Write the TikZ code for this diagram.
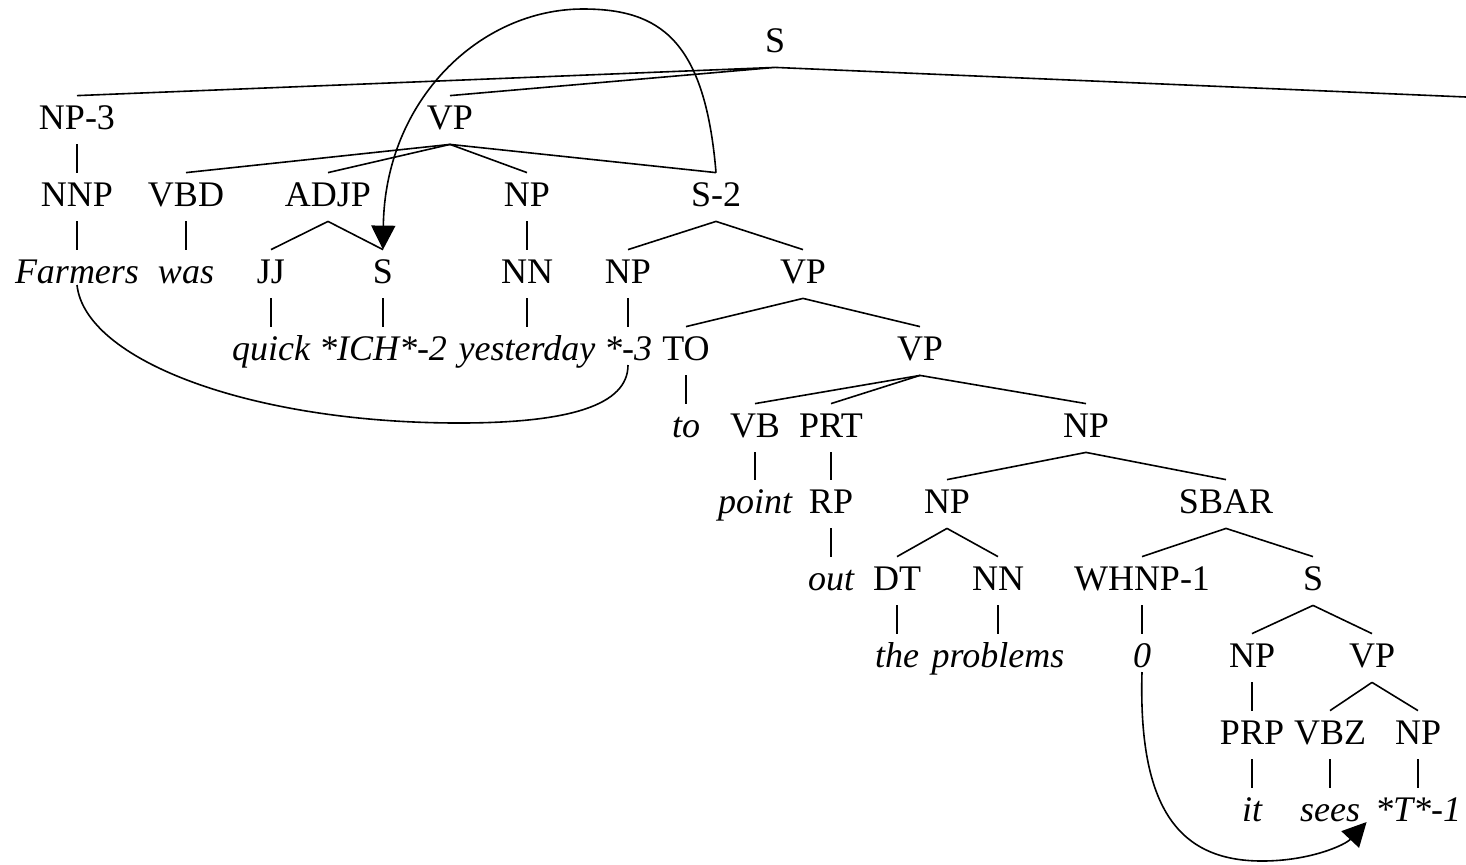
\documentclass[tikz,border=0pt]{standalone}
\usepackage{fontspec}
\setmainfont{Liberation Serif}
\usetikzlibrary{arrows.meta}
\begin{document}
\begin{tikzpicture}[x=0.5pt,y=-0.5pt,
  lab/.style={anchor=base, font=\fontsize{18}{20}\selectfont, text height=12pt, text depth=3pt, inner xsep=1pt, inner ysep=4.5pt},
  leaf/.style={lab, font=\fontsize{18}{20}\selectfont\itshape},
  edge/.style={line width=0.8pt},
  trace/.style={line width=0.8pt},
  arr/.style={trace, -{Triangle[length=12pt,width=12pt]}}]
\useasboundingbox (0,0) rectangle (1466,864);
% row 0
\node[lab] (S) at (775,52) {S};
% row 1
\node[lab] (np3) at (77,129) {NP-3};
\node[lab] (vp1) at (450,129) {VP};
\coordinate (sright) at (1466,97);
% row 2
\node[lab] (nnp) at (77,206) {NNP};
\node[lab] (vbd) at (186,206) {VBD};
\node[lab] (adjp) at (328,206) {ADJP};
\node[lab] (np2) at (527,206) {NP};
\node[lab] (s2) at (716,206) {S-2};
% row 3
\node[leaf] (farmers) at (77,283) {Farmers};
\node[leaf] (was) at (186,283) {was};
\node[lab] (jj) at (271,283) {JJ};
\node[lab] (sadj) at (383,283) {S};
\node[lab] (nn1) at (527,283) {NN};
\node[lab] (np3b) at (628,283) {NP};
\node[lab] (vp2) at (803,283) {VP};
% row 4
\node[leaf] (quick) at (271,360) {quick};
\node[leaf] (ich) at (383,360) {*ICH*-2};
\node[leaf] (yest) at (527,360) {yesterday};
\node[leaf] (star3) at (628,360) {*-3};
\node[lab] (TO) at (686,360) {TO};
\node[lab] (vp3) at (920,360) {VP};
% row 5
\node[leaf] (tow) at (686,437) {to};
\node[lab] (vb) at (755,437) {VB};
\node[lab] (prt) at (831,437) {PRT};
\node[lab] (np4) at (1086,437) {NP};
% row 6
\node[leaf] (point) at (755,513) {point};
\node[lab] (rp) at (831,513) {RP};
\node[lab] (np5) at (947,513) {NP};
\node[lab] (sbar) at (1226,513) {SBAR};
% row 7
\node[leaf] (out) at (831,590) {out};
\node[lab] (dt) at (897,590) {DT};
\node[lab] (nn2) at (998,590) {NN};
\node[lab] (whnp) at (1142,590) {WHNP-1};
\node[lab] (s3) at (1313,590) {S};
% row 8
\node[leaf] (the) at (897,667) {the};
\node[leaf] (problems) at (998,667) {problems};
\node[leaf] (zero) at (1142,667) {0};
\node[lab] (np6) at (1252,667) {NP};
\node[lab] (vp4) at (1372,667) {VP};
% row 9
\node[lab] (prp) at (1252,744) {PRP};
\node[lab] (vbz) at (1330,744) {VBZ};
\node[lab] (np7) at (1418,744) {NP};
% row 10
\node[leaf] (it) at (1252,821) {it};
\node[leaf] (sees) at (1330,821) {sees};
\node[leaf] (tstar) at (1418,821) {*T*-1};
% edges
\draw[edge] (np3.north) -- (S.south) -- (vp1.north);
\draw[edge] (S.south) -- (sright);
\draw[edge] (np3.south) -- (nnp.north);
\draw[edge] (nnp.south) -- (farmers.north);
\foreach \c in {vbd,adjp,np2,s2} \draw[edge] (vp1.south) -- (\c.north);
\draw[edge] (vbd.south) -- (was.north);
\foreach \c in {jj,sadj} \draw[edge] (adjp.south) -- (\c.north);
\draw[edge] (np2.south) -- (nn1.north);
\foreach \c in {np3b,vp2} \draw[edge] (s2.south) -- (\c.north);
\draw[edge] (jj.south) -- (quick.north);
\draw[edge] (sadj.south) -- (ich.north);
\draw[edge] (nn1.south) -- (yest.north);
\draw[edge] (np3b.south) -- (star3.north);
\foreach \c in {TO,vp3} \draw[edge] (vp2.south) -- (\c.north);
\draw[edge] (TO.south) -- (tow.north);
\foreach \c in {vb,prt,np4} \draw[edge] (vp3.south) -- (\c.north);
\draw[edge] (vb.south) -- (point.north);
\draw[edge] (prt.south) -- (rp.north);
\foreach \c in {np5,sbar} \draw[edge] (np4.south) -- (\c.north);
\draw[edge] (rp.south) -- (out.north);
\foreach \c in {dt,nn2} \draw[edge] (np5.south) -- (\c.north);
\foreach \c in {whnp,s3} \draw[edge] (sbar.south) -- (\c.north);
\draw[edge] (dt.south) -- (the.north);
\draw[edge] (nn2.south) -- (problems.north);
\draw[edge] (whnp.south) -- (zero.north);
\foreach \c in {np6,vp4} \draw[edge] (s3.south) -- (\c.north);
\draw[edge] (np6.south) -- (prp.north);
\foreach \c in {vbz,np7} \draw[edge] (vp4.south) -- (\c.north);
\draw[edge] (prp.south) -- (it.north);
\draw[edge] (vbz.south) -- (sees.north);
\draw[edge] (np7.south) -- (tstar.north);
% traces
\coordinate (peak1) at (583,9);
\draw[arr] (s2.north) .. controls (705,40) and (660,9) .. (peak1) .. controls (480,9) and (385,100) .. (sadj.north);
\coordinate (low2) at (459,423);
\draw[trace] ([yshift=-1pt]farmers.base) .. controls (85,360) and (250,423) .. (low2) .. controls (570,423) and (628,405) .. ([yshift=-2.5pt]star3.base);
\coordinate (low3) at (1262,861);
\draw[arr] ([yshift=-2.5pt]zero.base) .. controls (1138,810) and (1180,861) .. (low3) .. controls (1310,861) and (1345,845) .. ([xshift=-3pt,yshift=-0.5pt]tstar.base west);
\end{tikzpicture}
\end{document}
